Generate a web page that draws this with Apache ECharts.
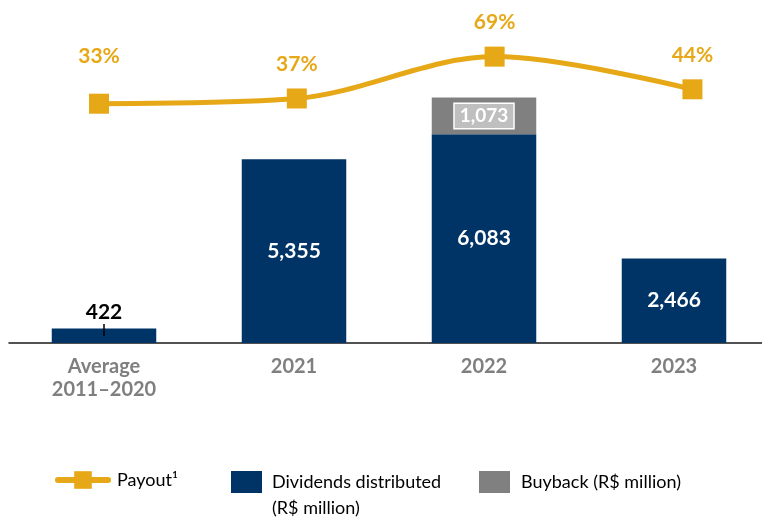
<!DOCTYPE html>
<html>
<head>
<meta charset="utf-8">
<script src="https://cdn.jsdelivr.net/npm/echarts@6/dist/echarts.min.js"></script>
<style>
  html, body { margin: 0; padding: 0; background: #fff; }
  #chart { width: 762px; height: 520px; }
</style>
</head>
<body>
<div id="chart"></div>
<script>
// categories and values
const categories = ['Average\n2011–2020', '2021', '2022', '2023']
const dividends = [422, 5355, 6083, 2466]
const buyback = [null, null, 1073, null]
const payout = [33, 37, 69, 44]

const gold = '#E6A817'
const navy = '#003366'
const font = 'Lato, "Noto Sans", sans-serif'

const chart = echarts.init(document.getElementById('chart'))

chart.setOption({
  animation: false,
  textStyle: { fontFamily: font },
  // grid runs a little past the right edge, like the axis line in the original
  grid: { left: 9, width: 760, top: 0, bottom: 177, outerBoundsMode: 'none' },
  xAxis: [
    {
      type: 'category',
      data: categories,
      axisLine: { lineStyle: { color: '#1a1a1a', width: 1.5 } },
      axisTick: { show: false },
      axisLabel: {
        margin: 12,
        color: '#7f7f7f',
        fontSize: 20,
        fontWeight: 'bold',
        lineHeight: 23,
        fontFamily: font
      }
    },
    {
      // hidden scale for the payout line, its points sit on a slightly wider spacing
      type: 'value',
      min: -0.455,
      max: 3.387,
      show: false
    }
  ],
  yAxis: [
    { type: 'value', min: 0, max: 10000, show: false },
    { type: 'value', min: -150, max: 112.3, show: false }
  ],
  legend: [
    {
      left: 55, top: 471, padding: 0,
      itemWidth: 50, itemHeight: 22,
      data: ['Payout¹'],
      lineStyle: { width: 6, cap: 'round' },
      textStyle: { fontSize: 18, color: '#000', fontFamily: font, padding: [0, 0, 0, 4] }
    },
    {
      left: 231, top: 471, padding: 0,
      itemWidth: 31, itemHeight: 22,
      data: [{ name: 'Dividends distributed (R$ million)', icon: 'rect' }],
      formatter: () => 'Dividends distributed',
      textStyle: { fontSize: 18, color: '#000', fontFamily: font, padding: [0, 0, 0, 5] }
    },
    {
      left: 479, top: 471, padding: 0,
      itemWidth: 31, itemHeight: 22,
      data: [{ name: 'Buyback (R$ million)', icon: 'rect' }],
      textStyle: { fontSize: 18, color: '#000', fontFamily: font, padding: [0, 0, 0, 6] }
    }
  ],
  graphic: [
    {
      type: 'text',
      left: 272, top: 499,
      style: { text: '(R$ million)', fontSize: 18, fill: '#000', fontFamily: font }
    }
  ],
  series: [
    {
      name: 'Dividends distributed (R$ million)',
      type: 'bar',
      stack: 'total',
      barWidth: '55%',
      itemStyle: { color: navy },
      data: dividends.map((v, i) => {
        if (i === 0) {
          // small bar: value above with a short leader line
          return {
            value: v,
            label: {
              show: true,
              position: 'top',
              distance: -7.5,
              formatter: '{v|422}\n{t| }',
              rich: {
                v: { fontSize: 21, fontWeight: 'bold', color: '#000', lineHeight: 24, fontFamily: font },
                t: { width: 1.5, height: 12, lineHeight: 12, backgroundColor: '#000', fontSize: 1 }
              }
            }
          }
        }
        return v
      }),
      label: {
        show: true,
        position: 'inside',
        color: '#fff',
        fontSize: 21,
        fontWeight: 'bold',
        fontFamily: font,
        formatter: p => p.value.toLocaleString('en-US')
      }
    },
    {
      name: 'Buyback (R$ million)',
      type: 'bar',
      stack: 'total',
      barWidth: '55%',
      itemStyle: { color: '#808080' },
      data: buyback,
      label: {
        show: true,
        position: 'inside',
        color: '#fff',
        fontSize: 19,
        fontWeight: 'bold',
        fontFamily: font,
        backgroundColor: '#BFBFBF',
        borderColor: '#fff',
        borderWidth: 1.5,
        padding: [3, 5, 2, 5],
        formatter: p => p.value.toLocaleString('en-US')
      }
    },
    {
      name: 'Payout¹',
      type: 'line',
      xAxisIndex: 1,
      yAxisIndex: 1,
      smooth: 0.33,
      symbol: 'rect',
      symbolSize: 20,
      lineStyle: { color: gold, width: 5 },
      itemStyle: { color: gold },
      data: payout.map((v, i) => {
        const item = { value: [i, v] }
        if (i === 0) item.label = { distance: 27 }
        return item
      }),
      label: {
        show: true,
        position: 'top',
        distance: 14,
        color: gold,
        fontSize: 21,
        fontWeight: 'bold',
        fontFamily: font,
        formatter: p => p.value[1] + '%'
      },
      z: 5
    }
  ]
})
</script>
</body>
</html>
